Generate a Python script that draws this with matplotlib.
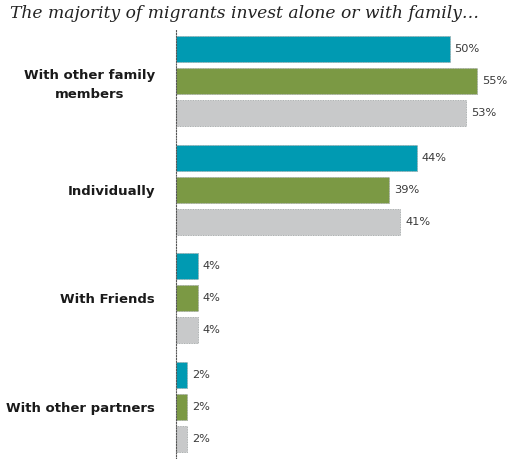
import matplotlib
matplotlib.use("Agg")
import matplotlib.pyplot as plt

categories = ["With other family\nmembers", "Individually", "With Friends", "With other partners"]
series_a = [50, 44, 4, 2]
series_b = [55, 39, 4, 2]
series_c = [53, 41, 4, 2]
title = "The majority of migrants invest alone or with family\u2026"

colors = ["#009AB2", "#7B9944", "#C8C9CA"]
series = [series_a, series_b, series_c]

fig = plt.figure(figsize=(5.07, 4.59), dpi=100)
ax = fig.add_axes([176/507, 0, 330/507, 1 - 30/459])

group_step = 3.4
bar_h = 0.81
for j, (vals, col) in enumerate(zip(series, colors)):
    ys = [i*group_step + j for i in range(len(categories))]
    ax.barh(ys, vals, height=bar_h, color=col, edgecolor="#9aa0a0", linewidth=0.6, linestyle=(0, (1, 1)))
    for y, v in zip(ys, vals):
        ax.text(v + 0.9, y, f"{v}%", va="center", ha="left", fontsize=8.2,
                color="#3a3a3a", family="DejaVu Sans")

ax.set_xlim(0, 330/5.47)
ax.set_ylim(3*group_step + 2 + 0.625, -0.59)
ax.set_yticks([i*group_step + 1 for i in range(len(categories))])
ax.set_yticklabels(categories, fontsize=9.5, fontweight="bold", color="#1a1a1a",
                   multialignment="center", linespacing=1.6)
ax.tick_params(axis="y", length=0, pad=15)
ax.set_xticks([])
for s in ["top", "right", "bottom"]:
    ax.spines[s].set_visible(False)
ax.spines["left"].set_linestyle((0, (1, 1.5)))
ax.spines["left"].set_color("#555555")
ax.spines["left"].set_linewidth(0.8)

fig.text(10/507, 1 - 13/459, title, fontsize=12.3, style="italic",
         family="DejaVu Serif", va="center", ha="left", color="#222222")

fig.savefig("out.png", dpi=100)
